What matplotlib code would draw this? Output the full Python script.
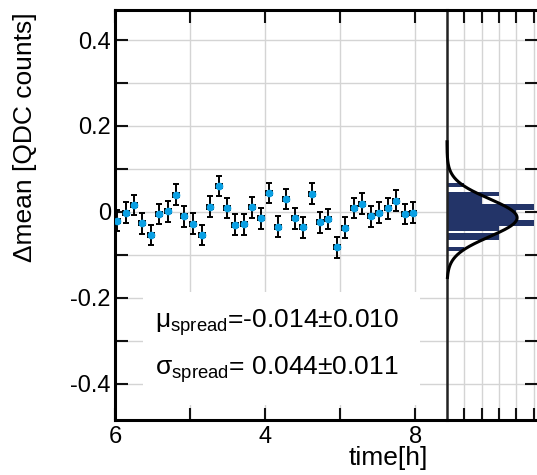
# stability plot: mean drift vs time with projected spread histogram
import numpy as np
import matplotlib
matplotlib.use("Agg")
import matplotlib.pyplot as plt
from matplotlib.patches import Rectangle

plt.rcParams.update({
    "font.family": "Liberation Sans",
    "mathtext.fontset": "custom",
    "mathtext.rm": "Liberation Sans",
    "mathtext.it": "Liberation Sans",
})

# time of each run [h]
time_h = [0.05, 0.28, 0.50, 0.73, 0.95, 1.18, 1.40, 1.63, 1.85, 2.08,
          2.31, 2.53, 2.76, 2.98, 3.21, 3.43, 3.66, 3.89, 4.11, 4.34,
          4.56, 4.79, 5.01, 5.24, 5.46, 5.69, 5.92, 6.14, 6.37, 6.59,
          6.82, 7.04, 7.27, 7.49, 7.72, 7.95]
d_mean = [-0.021, -0.002, 0.016, -0.027, -0.054, -0.005, 0.001, 0.040, -0.011, -0.028,
          -0.054, 0.012, 0.060, 0.009, -0.030, -0.029, 0.010, -0.015, 0.044, -0.035,
          0.030, -0.015, -0.036, 0.042, -0.025, -0.017, -0.083, -0.037, 0.009, 0.019,
          -0.011, -0.002, 0.008, 0.026, -0.005, -0.002]
t_err = 0.08
m_err = 0.024

# projection histogram (bin low edge, high edge, entries)
hist_lo = [0.057, 0.0356, 0.0186, 0.0047, -0.020, -0.034, -0.0458, -0.0651, -0.092]
hist_hi = [0.067, 0.047, 0.0356, 0.0186, 0.0047, -0.020, -0.034, -0.0496, -0.081]
hist_n = [1, 3, 2, 5, 4, 5, 3, 3, 1]

mu, mu_err = -0.014, 0.010
sigma, sigma_err = 0.044, 0.011
amp = 4.05

xticks = [0, 2, 4, 6, 8]
xticklabels = ["6", "", "4", "", "8"]
yticks = [-0.4, -0.3, -0.2, -0.1, 0.0, 0.1, 0.2, 0.3, 0.4]
yticklabels = ["-0.4", "", "-0.2", "", "0", "", "0.2", "", "0.4"]

GRID = "#d4d4d4"
BLUE = "#0aa0e4"
NAVY = "#233468"
YLIM = (-0.485, 0.47)

fig = plt.figure(figsize=(5.37, 4.75), dpi=100)
ax = fig.add_axes([0.2142, 0.1158, 0.6182, 0.8632])
axh = fig.add_axes([0.8324, 0.1158, 0.1676, 0.8632])

# --- left: time series ---
ax.set_xlim(0, 8.85)
ax.set_ylim(*YLIM)
ax.set_axisbelow(True)
ax.grid(True, color=GRID, lw=1.0)
ax.set_xticks(xticks)
ax.set_xticklabels(xticklabels)
ax.set_yticks(yticks)
ax.set_yticklabels(yticklabels)
ax.tick_params(axis="both", direction="in", length=9, width=1.5, labelsize=17,
               top=True, right=False, color="#111111")
ax.tick_params(axis="x", pad=4)
ax.tick_params(axis="y", pad=3)
for s in ["left", "top", "bottom"]:
    ax.spines[s].set_linewidth(2.2)
ax.spines["right"].set_visible(False)

ax.add_patch(Rectangle((0.75, -0.449), 7.38, 0.263, facecolor="white",
                       edgecolor="none", zorder=1.5))
ax.errorbar(time_h, d_mean, xerr=t_err, yerr=m_err, fmt="o", ms=4.5,
            mfc=BLUE, mec=BLUE, ecolor="black", elinewidth=1.4,
            capsize=2, capthick=1.4, zorder=3)

ax.text(1.07, -0.258, r"μ$_{\mathregular{spread}}$=-0.014±0.010",
        fontsize=19, va="center", ha="left", zorder=4)
ax.text(1.07, -0.367, r"σ$_{\mathregular{spread}}$= 0.044±0.011",
        fontsize=19, va="center", ha="left", zorder=4)

# --- right: projected distribution ---
lo = np.array(hist_lo)
hi = np.array(hist_hi)
axh.set_ylim(*YLIM)
axh.set_xlim(0, 5.2)
axh.set_axisbelow(True)
axh.grid(True, color=GRID, lw=1.0)
axh.barh((lo + hi) / 2, hist_n, height=hi - lo, color=NAVY, zorder=2)
yy = np.linspace(-0.153, 0.163, 400)
axh.plot(amp * np.exp(-0.5 * ((yy - mu) / sigma) ** 2), yy, color="black",
         lw=2.2, zorder=3, clip_on=False)
axh.set_xticks([1, 2, 3, 4, 5])
axh.set_yticks(yticks)
axh.tick_params(axis="both", direction="in", length=9, width=1.5,
                labelleft=False, labelbottom=False, left=False, right=True,
                top=True, color="#111111")
for s in ["top", "bottom"]:
    axh.spines[s].set_linewidth(2.2)
axh.spines["left"].set_linewidth(1.8)
axh.spines["left"].set_color("#222222")
axh.spines["right"].set_visible(False)

fig.text(0.047, 0.975, "Δmean [QDC counts]", rotation=90, fontsize=19,
         ha="center", va="top")
fig.text(0.797, 0.036, "time[h]", fontsize=19, ha="right", va="center")

fig.savefig("out.png", dpi=100)
